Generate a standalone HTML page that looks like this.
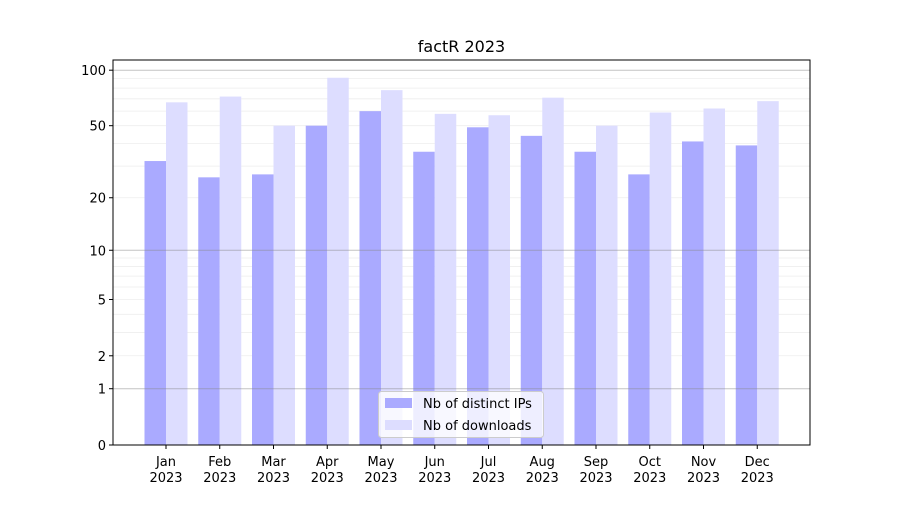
<!DOCTYPE html>
<html><head><meta charset="utf-8"><style>
body{margin:0;background:#fff;font-family:"Liberation Sans","DejaVu Sans",sans-serif}
text{font-family:"DejaVu Sans","Liberation Sans",sans-serif}
</style></head><body>
<svg id="chart" width="900" height="500"></svg>
<script>
const categories=["Jan","Feb","Mar","Apr","May","Jun","Jul","Aug","Sep","Oct","Nov","Dec"];
const distinctIPs=[32,26,27,50,60,36,49,44,36,27,41,39];
const downloads=[67,72,50,91,78,58,57,71,50,59,62,68];
const tickValues=[0,1,2,5,10,20,50,100];
const tickLabels=["0","1","2","5","10","20","50","100"];
const NS="http://www.w3.org/2000/svg";
const svg=document.getElementById('chart');
const L=113,R=810,T=60,B=445;
function y(v){return B-187*Math.log10(1+v);}
const step=53.75, x0=166;
function x(i){return x0+i*step;}
function mk(t,a,p){const e=document.createElementNS(NS,t);for(const k in a)e.setAttribute(k,a[k]);(p||svg).appendChild(e);return e;}
const minor=[];
for(let d=2;d<=9;d++)minor.push(d);
for(let d=20;d<=90;d+=10)minor.push(d);
minor.forEach(v=>{const g=mk('line',{x1:L,x2:R,y1:y(v),y2:y(v),stroke:'#eee','stroke-width':0.8});

});
const bw=21.5;
categories.forEach((c,i)=>{
 const b1=mk('rect',{x:x(i)-bw,y:y(distinctIPs[i]),width:bw,height:B-y(distinctIPs[i]),fill:'#aaaaff'});
 
 
 const b2=mk('rect',{x:x(i),y:y(downloads[i]),width:bw,height:B-y(downloads[i]),fill:'#ddddff'});
 
 
 mk('line',{x1:x(i),x2:x(i),y1:B,y2:B+4,stroke:'#000'});
 const t=mk('text',{x:x(i),y:466,'text-anchor':'middle','font-size':13});
 t.textContent=c;
 
 
 const t2=mk('text',{x:x(i),y:482,'text-anchor':'middle','font-size':13});
 t2.textContent='2023';
 
 
});
[1,10,100].forEach(v=>{const g=mk('line',{x1:L,x2:R,y1:y(v),y2:y(v),stroke:'#888','stroke-opacity':0.5,'stroke-width':1});

});
tickValues.forEach((v,i)=>{
 mk('line',{x1:L-4,x2:L,y1:y(v),y2:y(v),stroke:'#000'});
 const t=mk('text',{x:L-7,y:y(v)+5,'text-anchor':'end','font-size':13});
 t.textContent=tickLabels[i];
 
 
});
const f=mk('rect',{x:L,y:T,width:R-L,height:B-T,fill:'none',stroke:'#000','stroke-width':1});


const title=mk('text',{x:461.5,y:52,'text-anchor':'middle','font-size':16});
title.textContent='factR 2023';


const lg=mk('g',{});


mk('rect',{x:378.5,y:391.5,width:165,height:46,rx:3,fill:'#fff','fill-opacity':0.8,stroke:'#ccc'},lg);
mk('rect',{x:385,y:398,width:27,height:10,fill:'#aaaaff'},lg);
mk('rect',{x:385,y:420,width:27,height:10,fill:'#ddddff'},lg);
const l1=mk('text',{x:423,y:408,'font-size':13},lg);l1.textContent='Nb of distinct IPs';


const l2=mk('text',{x:423,y:430,'font-size':13},lg);l2.textContent='Nb of downloads';


</script>
</body></html>
